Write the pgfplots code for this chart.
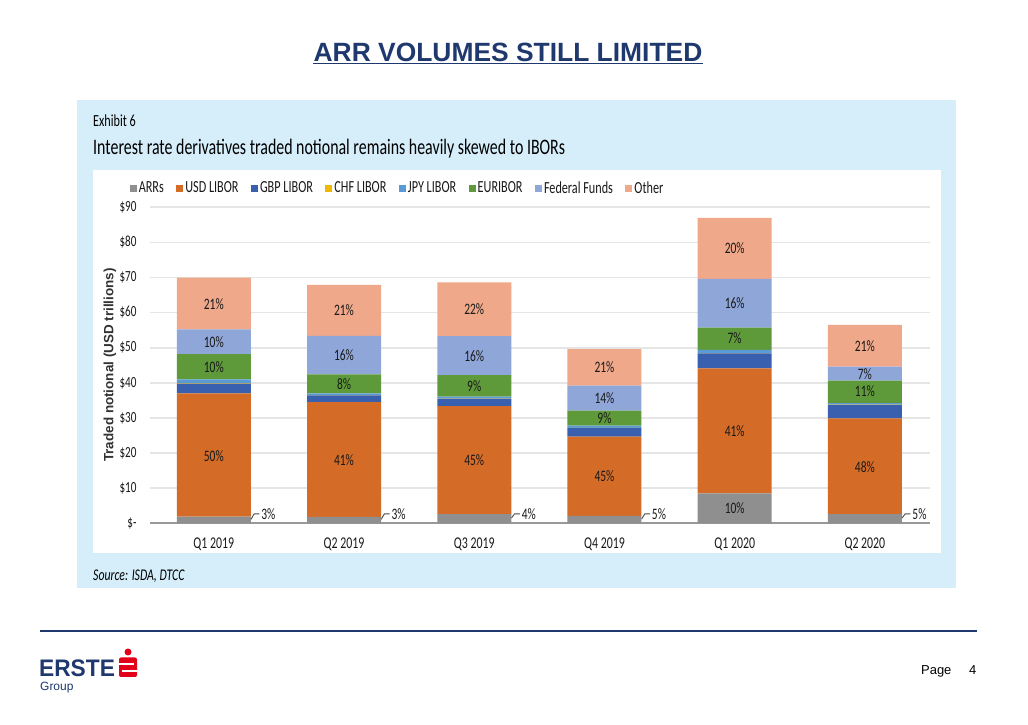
\documentclass[border=0pt]{standalone}
\usepackage{pgfplots}
\pgfplotsset{compat=1.18}
\usepackage{pgfplotstable}
\usetikzlibrary{calc}
\usepackage{fontspec}
\setmainfont{Liberation Sans}
\newfontfamily\cf[FakeStretch=0.72]{Carlito}

\definecolor{boxblue}{RGB}{214,238,249}
\definecolor{navy}{RGB}{31,56,110}
\definecolor{cARR}{RGB}{143,143,143}
\definecolor{cUSD}{RGB}{212,108,40}
\definecolor{cGBP}{RGB}{57,96,175}
\definecolor{cCHF}{RGB}{240,184,0}
\definecolor{cJPY}{RGB}{91,155,213}
\definecolor{cEUR}{RGB}{94,154,58}
\definecolor{cFF}{RGB}{143,166,216}
\definecolor{cOTH}{RGB}{240,168,138}
\definecolor{ersred}{RGB}{226,0,26}

\tikzset{pct/.style={font=\cf\fontsize{16}{16}\selectfont, text=black!90},
         lead/.style={draw=black!70, line width=0.9bp}}

% traded notional, USD trillions
\pgfplotstableread{
q ARR USD GBP CHF JPY EUR FF OTH
0 1.9 35.1 2.8 0.1 1.1 7.2 7.0 14.8
1 1.8 32.7 1.9 0.1 0.5 5.4 11.0 14.5
2 2.6 30.8 2.1 0.1 0.5 6.1 11.1 15.3
3 2.1 22.6 2.4 0.1 0.6 4.3 7.1 10.4
4 8.5 35.6 4.3 0.1 0.9 6.3 13.9 17.4
5 2.6 27.3 3.8 0.1 0.4 6.4 4.0 11.9
}\ivol

\begin{document}
\begin{tikzpicture}
\begin{scope}[x=1bp,y=1bp]
  \fill[white] (0,0) rectangle (1028,725);
  \fill[boxblue] (77,137) rectangle (956,625);
  \fill[white] (93,172) rectangle (941,555);
  % slide title
  \node[font=\bfseries\fontsize{26.5}{28}\selectfont, text=navy] (t) at (508,673) {ARR VOLUMES STILL LIMITED};
  \draw[navy, line width=1.6bp] ($(t.south west)+(3.3,1.5)$) -- ($(t.south east)+(-3.3,1.5)$);
  % exhibit heading
  \node[anchor=base west, font=\cf\fontsize{17}{17}\selectfont, inner sep=0] at (93,598) {Exhibit 6};
  \node[anchor=base west, font=\cf\fontsize{22.2}{22}\selectfont, inner sep=0] at (93,570) {Interest rate derivatives traded notional remains heavily skewed to IBORs};
  \node[anchor=base west, font=\cf\itshape\fontsize{16.4}{16}\selectfont, inner sep=0] at (93,144) {Source: ISDA, DTCC};
  \node[rotate=90, font=\bfseries\fontsize{13.5}{13.5}\selectfont, text=black!80] at (110,360) {Traded notional (USD trillions)};
  % footer
  \draw[navy, line width=2bp] (40,94) -- (977,94);
  \node[anchor=base west, font=\bfseries\fontsize{24}{24}\selectfont, text=navy, inner sep=0, xscale=0.95] at (39,48) {ERSTE};
  \node[anchor=base west, font=\fontsize{12}{12}\selectfont, text=navy, inner sep=0] at (40,34) {Group};
  \fill[ersred] (128,73) circle (3.5);
  \fill[ersred, rounded corners=2] (119,48) rectangle (137,67.5);
  \fill[white] (119,60) rectangle (134,62);
  \fill[white] (122,53) rectangle (137,55);
  \node[anchor=base west, font=\fontsize{13}{13}\selectfont, inner sep=0] at (921,50) {Page};
  \node[anchor=base west, font=\fontsize{13}{13}\selectfont, inner sep=0] at (969,50) {4};
\end{scope}

\begin{axis}[
  at={(150bp,201.7bp)}, anchor=south west,
  scale only axis, width=780bp, height=316bp,
  ybar stacked, bar width=74bp,
  xmin=-0.49, xmax=5.5, ymin=0, ymax=90,
  axis x line*=bottom, axis y line*=left,
  x axis line style={draw=black!40, line width=1.6bp},
  y axis line style={draw=none},
  xtick={0,1,2,3,4,5}, xticklabels={Q1 2019,Q2 2019,Q3 2019,Q4 2019,Q1 2020,Q2 2020},
  major tick length=0pt,
  ytick={0,10,20,30,40,50,60,70,80,90},
  yticklabels={\$-,\$10,\$20,\$30,\$40,\$50,\$60,\$70,\$80,\$90},
  ymajorgrids, grid style={draw=black!10, line width=1.6bp},
  xticklabel style={font=\cf\fontsize{16.5}{16.5}\selectfont, text=black!90, yshift=-11bp},
  yticklabel style={font=\cf\fontsize{15.5}{15.5}\selectfont, text=black!90, xshift=-10bp},
  legend columns=8,
  legend style={draw=none, fill=none, at={(-0.03,1.061)}, anchor=west,
    font=\cf\fontsize{17}{17}\selectfont, text=black!90,
    /tikz/every even column/.append style={column sep=10.5bp}},
  legend image code/.code={\fill[#1] (0bp,-3.5bp) rectangle (7bp,3.5bp);},
]
\addplot[fill=cARR, draw=none] table[x=q,y=ARR]{\ivol};
\addplot[fill=cUSD, draw=none] table[x=q,y=USD]{\ivol};
\addplot[fill=cGBP, draw=none] table[x=q,y=GBP]{\ivol};
\addplot[fill=cCHF, draw=none] table[x=q,y=CHF]{\ivol};
\addplot[fill=cJPY, draw=none] table[x=q,y=JPY]{\ivol};
\addplot[fill=cEUR, draw=none] table[x=q,y=EUR]{\ivol};
\addplot[fill=cFF, draw=none] table[x=q,y=FF]{\ivol};
\addplot[fill=cOTH, draw=none] table[x=q,y=OTH]{\ivol};
\legend{ARRs,USD LIBOR,GBP LIBOR,CHF LIBOR,JPY LIBOR,EURIBOR,Federal Funds,Other}

% label anchors (segment centres)
\coordinate (a1) at (axis cs:0,19);   \coordinate (a2) at (axis cs:0,44.4);
\coordinate (a3) at (axis cs:0,51.5); \coordinate (a4) at (axis cs:0,62.4);
\coordinate (b1) at (axis cs:1,18);   \coordinate (b2) at (axis cs:1,39.7);
\coordinate (b3) at (axis cs:1,47.9); \coordinate (b4) at (axis cs:1,60.7);
\coordinate (c1) at (axis cs:2,18);   \coordinate (c2) at (axis cs:2,39.2);
\coordinate (c3) at (axis cs:2,47.7); \coordinate (c4) at (axis cs:2,61);
\coordinate (d1) at (axis cs:3,13.5); \coordinate (d2) at (axis cs:3,30);
\coordinate (d3) at (axis cs:3,35.6); \coordinate (d4) at (axis cs:3,44.4);
\coordinate (e0) at (axis cs:4,4.3);  \coordinate (e1) at (axis cs:4,26.3);
\coordinate (e2) at (axis cs:4,52.6); \coordinate (e3) at (axis cs:4,62.6);
\coordinate (e4) at (axis cs:4,78.3);
\coordinate (f1) at (axis cs:5,16);   \coordinate (f2) at (axis cs:5,37.5);
\coordinate (f3) at (axis cs:5,42.6); \coordinate (f4) at (axis cs:5,50.5);
% ARR leader labels
\draw[lead] (axis cs:0.285,1.1) -- (axis cs:0.31,2.7) -- (axis cs:0.35,2.7) node[pct, right, inner sep=1.5bp] {3\%};
\draw[lead] (axis cs:1.285,1.1) -- (axis cs:1.31,2.7) -- (axis cs:1.35,2.7) node[pct, right, inner sep=1.5bp] {3\%};
\draw[lead] (axis cs:2.285,1.5) -- (axis cs:2.31,2.7) -- (axis cs:2.35,2.7) node[pct, right, inner sep=1.5bp] {4\%};
\draw[lead] (axis cs:3.285,1.2) -- (axis cs:3.31,2.7) -- (axis cs:3.35,2.7) node[pct, right, inner sep=1.5bp] {5\%};
\draw[lead] (axis cs:5.285,1.5) -- (axis cs:5.31,2.7) -- (axis cs:5.35,2.7) node[pct, right, inner sep=1.5bp] {5\%};
\end{axis}

\node[pct] at (a1) {50\%}; \node[pct] at (a2) {10\%};
\node[pct] at (a3) {10\%}; \node[pct] at (a4) {21\%};
\node[pct] at (b1) {41\%}; \node[pct] at (b2) {8\%};
\node[pct] at (b3) {16\%}; \node[pct] at (b4) {21\%};
\node[pct] at (c1) {45\%}; \node[pct] at (c2) {9\%};
\node[pct] at (c3) {16\%}; \node[pct] at (c4) {22\%};
\node[pct] at (d1) {45\%}; \node[pct] at (d2) {9\%};
\node[pct] at (d3) {14\%}; \node[pct] at (d4) {21\%};
\node[pct] at (e0) {10\%}; \node[pct] at (e1) {41\%};
\node[pct] at (e2) {7\%};  \node[pct] at (e3) {16\%};
\node[pct] at (e4) {20\%};
\node[pct] at (f1) {48\%}; \node[pct] at (f2) {11\%};
\node[pct] at (f3) {7\%};  \node[pct] at (f4) {21\%};
\end{tikzpicture}
\end{document}
